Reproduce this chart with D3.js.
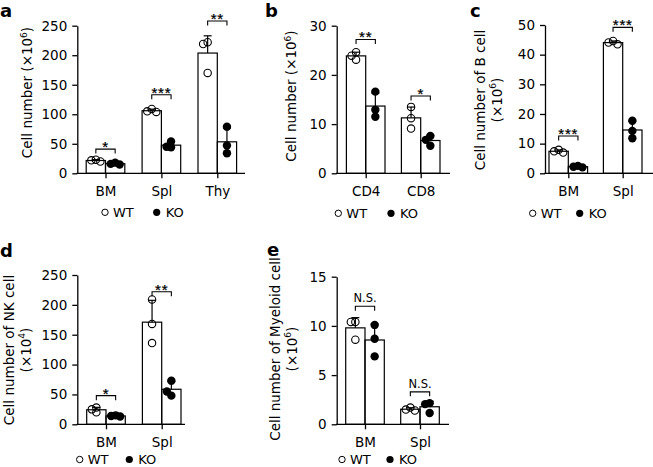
<!DOCTYPE html>
<html><head><meta charset="utf-8">
<script src="https://cdn.jsdelivr.net/npm/d3@7"></script>
<style>body{margin:0;background:#fff}svg{display:block;font-family:'DejaVu Sans',sans-serif}</style>
</head><body><svg id="chart" width="653" height="467"></svg>
<script>
// ---------- data ----------
const aCats = ["BM", "Spl", "Thy"];
const aWT = [[23, 22, 20], [109, 105, 104], [222, 170, 219]];
const aKO = [[18, 16, 15], [54, 44, 45], [79, 34, 47]];
const aSig = ["*", "***", "**"];
const aSigLevel = [41, 133, 258];
const aTicks = [0, 50, 100, 150, 200, 250];

const bCats = ["CD4", "CD8"];
const bWT = [[24.6, 23.9, 23.1], [13.5, 11.2, 9.1]];
const bKO = [[16.6, 11.5, 12.9], [7.6, 6.8, 5.6]];
const bSig = ["**", "*"];
const bSigLevel = [27.2, 15.7];
const bTicks = [0, 10, 20, 30];

const cCats = ["BM", "Spl"];
const cWT = [[7.9, 7.4, 7.0], [44.6, 44.1, 43.5]];
const cKO = [[2.5, 2.2, 2.0], [17.7, 11.8, 14.3]];
const cSig = ["***", "***"];
const cSigLevel = [12.6, 49.2];
const cTicks = [0, 10, 20, 30, 40, 50];

const dCats = ["BM", "Spl"];
const dWT = [[28, 20, 25], [209, 168, 136]];
const dKO = [[15, 14, 13], [73, 48, 55]];
const dSig = ["*", "**"];
const dSigLevel = [48, 222];
const dTicks = [0, 50, 100, 150, 200, 250];

const eCats = ["BM", "Spl"];
const eWT = [[10.4, 10.4, 8.6], [1.7, 1.5, 1.4]];
const eKO = [[10.1, 8.7, 6.9], [2.15, 2.05, 1.15]];
const eSig = ["N.S.", "N.S."];
const eSigLevel = [12, 3.3];
const eTicks = [0, 5, 10, 15];

const legendLabels = ["WT", "KO"];

// ---------- layout ----------
const FS = 13.5, LFS = 13.5, BW = 19.3, R = 4.2, SW = 1.3;
const svg = d3.select("#chart");

const panels = [
  {letter: "a", cats: aCats, wt: aWT, ko: aKO, sig: aSig, lvl: aSigLevel, ticks: aTicks,
   x0: 77.3, x1: 245, c0: 105.5, c1: 217.3, yb: 173.3, yt: 25.7, lx: 0, ly: 17,
   label: [{t: "Cell number (×10", s: "6", e: ")"}], labX: [32], labY: 92.5, leg: [105, 156.7, 212.3]},
  {letter: "b", cats: bCats, wt: bWT, ko: bKO, sig: bSig, lvl: bSigLevel, ticks: bTicks,
   x0: 336.7, x1: 450, c0: 365.7, c1: 420.7, yb: 173.3, yt: 25.7, lx: 265, ly: 17,
   label: [{t: "Cell number (×10", s: "6", e: ")"}], labX: [296], labY: 96, leg: [338.3, 391, 213.3]},
  {letter: "c", cats: cCats, wt: cWT, ko: cKO, sig: cSig, lvl: cSigLevel, ticks: cTicks,
   x0: 545, x1: 653, c0: 568.3, c1: 622.7, yb: 173.3, yt: 25, lx: 470, ly: 17,
   label: [{t: "Cell number of B cell"}, {t: "(×10", s: "6", e: ")"}], labX: [485, 501.5], labY: 100, leg: [532.7, 579.7, 213.3]},
  {letter: "d", cats: dCats, wt: dWT, ko: dKO, sig: dSig, lvl: dSigLevel, ticks: dTicks,
   x0: 77.3, x1: 185, c0: 106, c1: 161.7, yb: 424.3, yt: 275, lx: 0, ly: 257,
   label: [{t: "Cell number of NK cell"}, {t: "(×10", s: "4", e: ")"}], labX: [13.5, 30.5], labY: 350, leg: [79.7, 129.3, 459.5]},
  {letter: "e", cats: eCats, wt: eWT, ko: eKO, sig: eSig, lvl: eSigLevel, ticks: eTicks,
   x0: 336.7, x1: 449, c0: 365, c1: 420, yb: 424.3, yt: 276.7, lx: 267, ly: 256,
   label: [{t: "Cell number of Myeloid cell"}, {t: "(×10", s: "6", e: ")"}], labX: [280, 296.5], labY: 349, leg: [342, 390, 459.5]}
];

function swarm(vals, y) {
  const placed = [];
  const cands = [0, -4.5, 4.5, -9, 9];
  return vals.map(v => {
    const py = y(v);
    let off = cands[cands.length - 1];
    for (const c of cands) {
      if (placed.every(p => Math.hypot(p[0] - c, p[1] - py) >= 4.5)) { off = c; break; }
    }
    placed.push([off, py]);
    return off;
  });
}

panels.forEach(p => {
  const g = svg.append("g");
  const yMax = p.ticks[p.ticks.length - 1];
  const y = d3.scaleLinear().domain([0, yMax]).range([p.yb, p.yt]);
  const x = d3.scalePoint().domain(p.cats).range([p.c0, p.c1]);

  // panel letter
  g.append("text").attr("x", p.lx).attr("y", p.ly).attr("font-weight", "bold")
    .attr("font-size", 18).attr("fill", "#000").text(p.letter);

  // y label
  p.label.forEach((ln, i) => {
    const t = g.append("text").attr("text-anchor", "middle").attr("font-size", LFS).attr("fill", "#000")
      .attr("transform", `translate(${p.labX[i]},${p.labY}) rotate(-90)`);
    t.append("tspan").text(ln.t);
    if (ln.s) {
      t.append("tspan").attr("font-size", 9).attr("dy", -5.5).text(ln.s);
      t.append("tspan").attr("dy", 5.5).text(ln.e);
    }
  });

  // y axis
  const ya = g.append("g").attr("transform", `translate(${p.x0},0)`)
    .call(d3.axisLeft(y).tickValues(p.ticks).tickSize(5).tickPadding(5).tickSizeOuter(0));
  ya.attr("font-family", null).attr("font-size", null);
  ya.selectAll("text").attr("font-size", FS).attr("fill", "#000");
  ya.selectAll("path,line").attr("stroke", "#000").attr("stroke-width", SW);

  // x axis
  const xa = g.append("g").attr("transform", `translate(0,${p.yb})`)
    .call(d3.axisBottom(x).tickSize(5).tickPadding(8).tickSizeOuter(0));
  xa.attr("font-family", null).attr("font-size", null);
  xa.select(".domain").remove();
  xa.selectAll("text").attr("font-size", FS).attr("fill", "#000");
  xa.selectAll("line").attr("stroke", "#000").attr("stroke-width", SW);
  g.append("line").attr("x1", p.x0 - SW / 2).attr("x2", p.x1).attr("y1", p.yb).attr("y2", p.yb)
    .attr("stroke", "#000").attr("stroke-width", SW);

  // bars, error bars, points
  p.cats.forEach((cat, i) => {
    const cx = x(cat);
    [[p.wt[i], -1], [p.ko[i], 1]].forEach(([vals, side], k) => {
      const m = d3.mean(vals), sd = d3.deviation(vals);
      const bx = side < 0 ? cx - BW : cx;
      const mid = bx + BW / 2;
      g.append("rect").attr("x", bx).attr("y", y(m)).attr("width", BW).attr("height", p.yb - y(m))
        .attr("fill", "none").attr("stroke", "#000").attr("stroke-width", 1.2);
      g.append("line").attr("x1", mid).attr("x2", mid).attr("y1", y(m)).attr("y2", y(m + sd))
        .attr("stroke", "#000").attr("stroke-width", 1.2);
      g.append("line").attr("x1", mid - 4).attr("x2", mid + 4).attr("y1", y(m + sd)).attr("y2", y(m + sd))
        .attr("stroke", "#000").attr("stroke-width", 1.2);
      const offs = swarm(vals, y);
      vals.forEach((v, j) => {
        const c = g.append("circle").attr("cx", mid + offs[j]).attr("cy", y(v));
        if (k === 0) c.attr("r", R - 0.5).attr("fill", "none").attr("stroke", "#000").attr("stroke-width", 1.1);
        else c.attr("r", R).attr("fill", "#000");
      });
    });
    // significance bracket
    const ly = y(p.lvl[i]);
    const xl = cx - BW / 2, xr = cx + BW / 2;
    g.append("path").attr("d", `M${xl},${ly + 4.5}V${ly}H${xr}V${ly + 4.5}`)
      .attr("fill", "none").attr("stroke", "#000").attr("stroke-width", 1.1);
    const s = p.sig[i];
    if (s === "N.S.") {
      g.append("text").attr("x", cx).attr("y", ly - 4).attr("text-anchor", "middle")
        .attr("font-size", 11.5).attr("fill", "#000").text(s);
    } else {
      g.append("text").attr("text-anchor", "middle")
        .attr("transform", `translate(${cx},${ly + 3}) rotate(0.01)`)
        .attr("font-family", "'Liberation Sans', sans-serif").attr("letter-spacing", 0.8)
        .attr("font-size", 15).attr("fill", "#000").attr("stroke", "#000").attr("stroke-width", 0.25)
        .text(s);
    }
  });

  // legend
  const [lw, lk, lyy] = p.leg;
  g.append("circle").attr("cx", lw).attr("cy", lyy).attr("r", 3.2).attr("fill", "none")
    .attr("stroke", "#000").attr("stroke-width", 1);
  g.append("text").attr("x", lw + 8).attr("y", lyy + 4.5).attr("font-size", 13).attr("fill", "#000").text(legendLabels[0]);
  g.append("circle").attr("cx", lk).attr("cy", lyy).attr("r", 3.6).attr("fill", "#000");
  g.append("text").attr("x", lk + 9).attr("y", lyy + 4.5).attr("font-size", 13).attr("fill", "#000").text(legendLabels[1]);
});
</script></body></html>
